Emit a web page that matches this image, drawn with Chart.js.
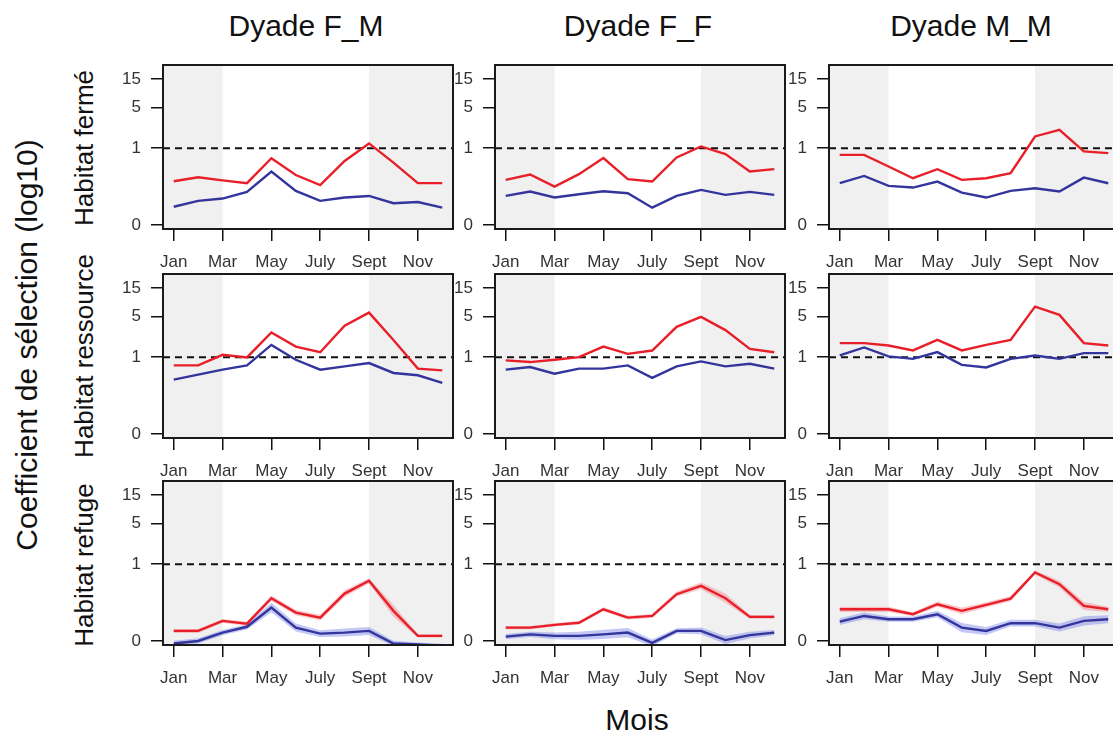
<!DOCTYPE html>
<html>
<head>
<meta charset="utf-8">
<script src="https://cdn.jsdelivr.net/npm/chart.js@4.4.1/dist/chart.umd.min.js"></script>
<style>
  html, body { margin: 0; padding: 0; background: #fff; }
  body { width: 1113px; height: 735px; position: relative; overflow: hidden;
         font-family: 'Liberation Sans', Arial, sans-serif; color: #111; }
  canvas { position: absolute; }
  .lbl { position: absolute; white-space: nowrap; line-height: 1; }
  .col { transform: translateX(-50%); font-size: 30px; top: 11px; }
  .rot { transform: translate(-50%, -50%) rotate(-90deg); }
</style>
</head>
<body>
<div class="lbl col" style="left:306px">Dyade F_M</div>
<div class="lbl col" style="left:638px">Dyade F_F</div>
<div class="lbl col" style="left:971px">Dyade M_M</div>
<div class="lbl rot" style="left:84px;top:148px;font-size:26px">Habitat fermé</div>
<div class="lbl rot" style="left:84px;top:356px;font-size:26px">Habitat ressource</div>
<div class="lbl rot" style="left:84px;top:565px;font-size:26px">Habitat refuge</div>
<div class="lbl rot" style="left:27px;top:345px;font-size:30px">Coefficient de sélection (log10)</div>
<div class="lbl" style="left:637px;top:705px;font-size:30px;transform:translateX(-50%)">Mois</div>

<script>
// months and axis labels
const months = [1, 2, 3, 4, 5, 6, 7, 8, 9, 10, 11, 12];
const tickMonths = [1, 3, 5, 7, 9, 11];
const tickLabels = ['Jan', 'Mar', 'May', 'July', 'Sept', 'Nov'];
const yTicks = [0, 1, 5, 15];
const refLevel = 1;
const shadeEnd = 3;    // grey until March
const shadeStart = 9;  // grey again from September
const OFFSET = 0.055;  // log10(1 + v / OFFSET)

// Habitat fermé
const FM_ferme_red  = [0.24, 0.29, 0.25, 0.22, 0.66, 0.32, 0.20, 0.59, 1.21, 0.55, 0.22, 0.22];
const FM_ferme_blue = [0.056, 0.084, 0.097, 0.141, 0.375, 0.149, 0.084, 0.103, 0.113, 0.072, 0.078, 0.052];
const FF_ferme_red  = [0.257, 0.328, 0.186, 0.333, 0.664, 0.265, 0.237, 0.681, 1.071, 0.783, 0.375, 0.415];
const FF_ferme_blue = [0.113, 0.144, 0.103, 0.124, 0.146, 0.131, 0.052, 0.113, 0.157, 0.120, 0.141, 0.120];
const MM_ferme_red  = [0.761, 0.761, 0.466, 0.277, 0.415, 0.257, 0.277, 0.348, 1.598, 2.083, 0.875, 0.816];
const MM_ferme_blue = [0.219, 0.308, 0.192, 0.177, 0.237, 0.136, 0.103, 0.149, 0.171, 0.144, 0.285, 0.219];

// Habitat ressource
const FM_ressource_red  = [0.714, 0.714, 1.098, 0.988, 2.677, 1.527, 1.220, 3.468, 5.79, 1.984, 0.623, 0.580];
const FM_ressource_blue = [0.390, 0.485, 0.597, 0.714, 1.633, 0.899, 0.597, 0.685, 0.786, 0.519, 0.471, 0.337];
const FF_ressource_red  = [0.875, 0.818, 0.899, 1.000, 1.527, 1.144, 1.306, 3.335, 4.908, 2.930, 1.393, 1.220];
const FF_ressource_blue = [0.597, 0.666, 0.504, 0.623, 0.623, 0.714, 0.420, 0.685, 0.840, 0.685, 0.764, 0.623];
const MM_ressource_red  = [1.752, 1.752, 1.598, 1.310, 1.997, 1.310, 1.638, 1.997, 7.32, 5.30, 1.752, 1.598];
const MM_ressource_blue = [1.071, 1.476, 1.029, 0.934, 1.224, 0.730, 0.655, 0.934, 1.071, 0.934, 1.175, 1.175];

// Habitat refuge
const FM_refuge_red  = [0.026, 0.026, 0.064, 0.052, 0.230, 0.109, 0.080, 0.285, 0.501, 0.120, 0.012, 0.012];
const FM_refuge_blue = [-0.005, 0.000, 0.021, 0.040, 0.144, 0.037, 0.018, 0.021, 0.026, -0.005, -0.007, -0.009];
const FF_refuge_red  = [0.037, 0.037, 0.047, 0.056, 0.131, 0.080, 0.089, 0.277, 0.402, 0.230, 0.084, 0.084];
const FF_refuge_blue = [0.010, 0.016, 0.012, 0.012, 0.016, 0.021, -0.004, 0.026, 0.026, 0.002, 0.014, 0.021];
const MM_refuge_red  = [0.131, 0.131, 0.131, 0.099, 0.171, 0.120, 0.165, 0.226, 0.710, 0.433, 0.157, 0.131];
const MM_refuge_blue = [0.061, 0.089, 0.072, 0.072, 0.099, 0.037, 0.026, 0.054, 0.054, 0.037, 0.064, 0.072];

// half width of the shaded bands (log10 units), refuge row only
const FM_refuge_red_se  = [0.033, 0.033, 0.033, 0.033, 0.044, 0.044, 0.050, 0.056, 0.044, 0.100, 0.028, 0.028];
const FM_refuge_blue_se = [0.044, 0.044, 0.044, 0.044, 0.078, 0.067, 0.056, 0.067, 0.067, 0.044, 0.033, 0.033];
const FF_refuge_red_se  = [0.028, 0.028, 0.028, 0.028, 0.033, 0.033, 0.033, 0.044, 0.056, 0.078, 0.033, 0.033];
const FF_refuge_blue_se = [0.044, 0.044, 0.056, 0.067, 0.078, 0.078, 0.056, 0.044, 0.056, 0.067, 0.056, 0.044];
const MM_refuge_red_se  = [0.044, 0.044, 0.044, 0.033, 0.044, 0.056, 0.044, 0.044, 0.033, 0.056, 0.067, 0.044];
const MM_refuge_blue_se = [0.056, 0.056, 0.044, 0.044, 0.056, 0.078, 0.067, 0.056, 0.056, 0.067, 0.078, 0.067];

const panels = [
    { row: 0, col: 0, red: FM_ferme_red, blue: FM_ferme_blue },
    { row: 0, col: 1, red: FF_ferme_red, blue: FF_ferme_blue },
    { row: 0, col: 2, red: MM_ferme_red, blue: MM_ferme_blue },
    { row: 1, col: 0, red: FM_ressource_red, blue: FM_ressource_blue },
    { row: 1, col: 1, red: FF_ressource_red, blue: FF_ressource_blue },
    { row: 1, col: 2, red: MM_ressource_red, blue: MM_ressource_blue },
    { row: 2, col: 0, red: FM_refuge_red, blue: FM_refuge_blue, redSe: FM_refuge_red_se, blueSe: FM_refuge_blue_se },
    { row: 2, col: 1, red: FF_refuge_red, blue: FF_refuge_blue, redSe: FF_refuge_red_se, blueSe: FF_refuge_blue_se },
    { row: 2, col: 2, red: MM_refuge_red, blue: MM_refuge_blue, redSe: MM_refuge_red_se, blueSe: MM_refuge_blue_se },
];

// layout
const colLeft = [163, 495, 829];
const rowTop = [65, 274, 481];
const BOX_W = 290, BOX_H = 164, AXIS_W = 80, AXIS_H = 48, PAD = 12;

const RED = '#e81f29';
const BLUE = '#33359c';

function tr(v) { return Math.log10(1 + v / OFFSET); }

function points(values, se, sign) {
    return values.map((v, i) => ({ x: months[i], y: tr(v) + (se ? sign * se[i] : 0) }));
}

const framePlugin = {
    id: 'frame',
    beforeDatasetsDraw(chart) {
        const { ctx, chartArea: a, scales: { x, y } } = chart;
        ctx.save();
        ctx.fillStyle = '#f0f0f0';
        const xa = x.getPixelForValue(shadeEnd);
        const xb = x.getPixelForValue(shadeStart);
        ctx.fillRect(a.left, a.top, xa - a.left, a.bottom - a.top);
        ctx.fillRect(xb, a.top, a.right - xb, a.bottom - a.top);
        // reference line at 1
        const yr = y.getPixelForValue(tr(refLevel));
        ctx.strokeStyle = '#111';
        ctx.lineWidth = 2;
        ctx.setLineDash([7, 5]);
        ctx.beginPath();
        ctx.moveTo(a.left, yr);
        ctx.lineTo(a.right, yr);
        ctx.stroke();
        ctx.restore();
    },
    afterDraw(chart) {
        const { ctx, chartArea: a } = chart;
        ctx.save();
        ctx.strokeStyle = '#1a1a1a';
        ctx.lineWidth = 2;
        ctx.strokeRect(a.left, a.top, a.right - a.left, a.bottom - a.top);
        ctx.restore();
    }
};

function lineSet(values, color) {
    return {
        data: points(values),
        borderColor: color,
        borderWidth: 2.4,
        pointRadius: 0,
        tension: 0,
        fill: false,
    };
}

function bandSets(values, se, fillColor) {
    return [
        { data: points(values, se, 1), borderWidth: 0, pointRadius: 0, fill: '+1', backgroundColor: fillColor },
        { data: points(values, se, -1), borderWidth: 0, pointRadius: 0, fill: false },
    ];
}

panels.forEach(p => {
    const canvas = document.createElement('canvas');
    canvas.width = AXIS_W + BOX_W + PAD;
    canvas.height = PAD + BOX_H + AXIS_H;
    canvas.style.left = (colLeft[p.col] - AXIS_W) + 'px';
    canvas.style.top = (rowTop[p.row] - PAD) + 'px';
    document.body.appendChild(canvas);

    let datasets = [lineSet(p.red, RED), lineSet(p.blue, BLUE)];
    if (p.redSe) {
        datasets = datasets.concat(bandSets(p.red, p.redSe, 'rgba(245, 110, 120, 0.38)'));
        datasets = datasets.concat(bandSets(p.blue, p.blueSe, 'rgba(100, 110, 230, 0.38)'));
    }

    new Chart(canvas, {
        type: 'line',
        data: { datasets: datasets },
        plugins: [framePlugin],
        options: {
            responsive: false,
            animation: false,
            devicePixelRatio: 1,
            layout: { padding: { top: PAD, right: PAD, left: 0, bottom: 0 } },
            plugins: { legend: { display: false }, tooltip: { enabled: false } },
            scales: {
                x: {
                    type: 'linear',
                    min: 0.56,
                    max: 12.44,
                    afterBuildTicks: s => { s.ticks = tickMonths.map(v => ({ value: v })); },
                    afterFit: s => { s.height = AXIS_H; s.paddingLeft = 0; s.paddingRight = 0; },
                    ticks: {
                        autoSkip: false,
                        maxRotation: 0,
                        padding: 11,
                        color: '#333',
                        font: { family: "'Liberation Sans', Arial, sans-serif", size: 17 },
                        callback: (v, i) => tickLabels[i],
                    },
                    grid: { drawOnChartArea: false, drawTicks: true, tickLength: 12, color: '#111', lineWidth: 1.5 },
                    border: { display: false },
                },
                y: {
                    type: 'linear',
                    min: -0.067,
                    max: 2.671,
                    afterBuildTicks: s => { s.ticks = yTicks.map(v => ({ value: tr(v) })); },
                    afterFit: s => { s.width = AXIS_W; s.paddingTop = 0; s.paddingBottom = 0; },
                    ticks: {
                        padding: 10,
                        color: '#333',
                        font: { family: "'Liberation Sans', Arial, sans-serif", size: 17 },
                        callback: (v, i) => yTicks[i],
                    },
                    grid: { drawOnChartArea: false, drawTicks: true, tickLength: 12, color: '#111', lineWidth: 1.5 },
                    border: { display: false },
                }
            }
        }
    });
});
</script>
</body>
</html>
